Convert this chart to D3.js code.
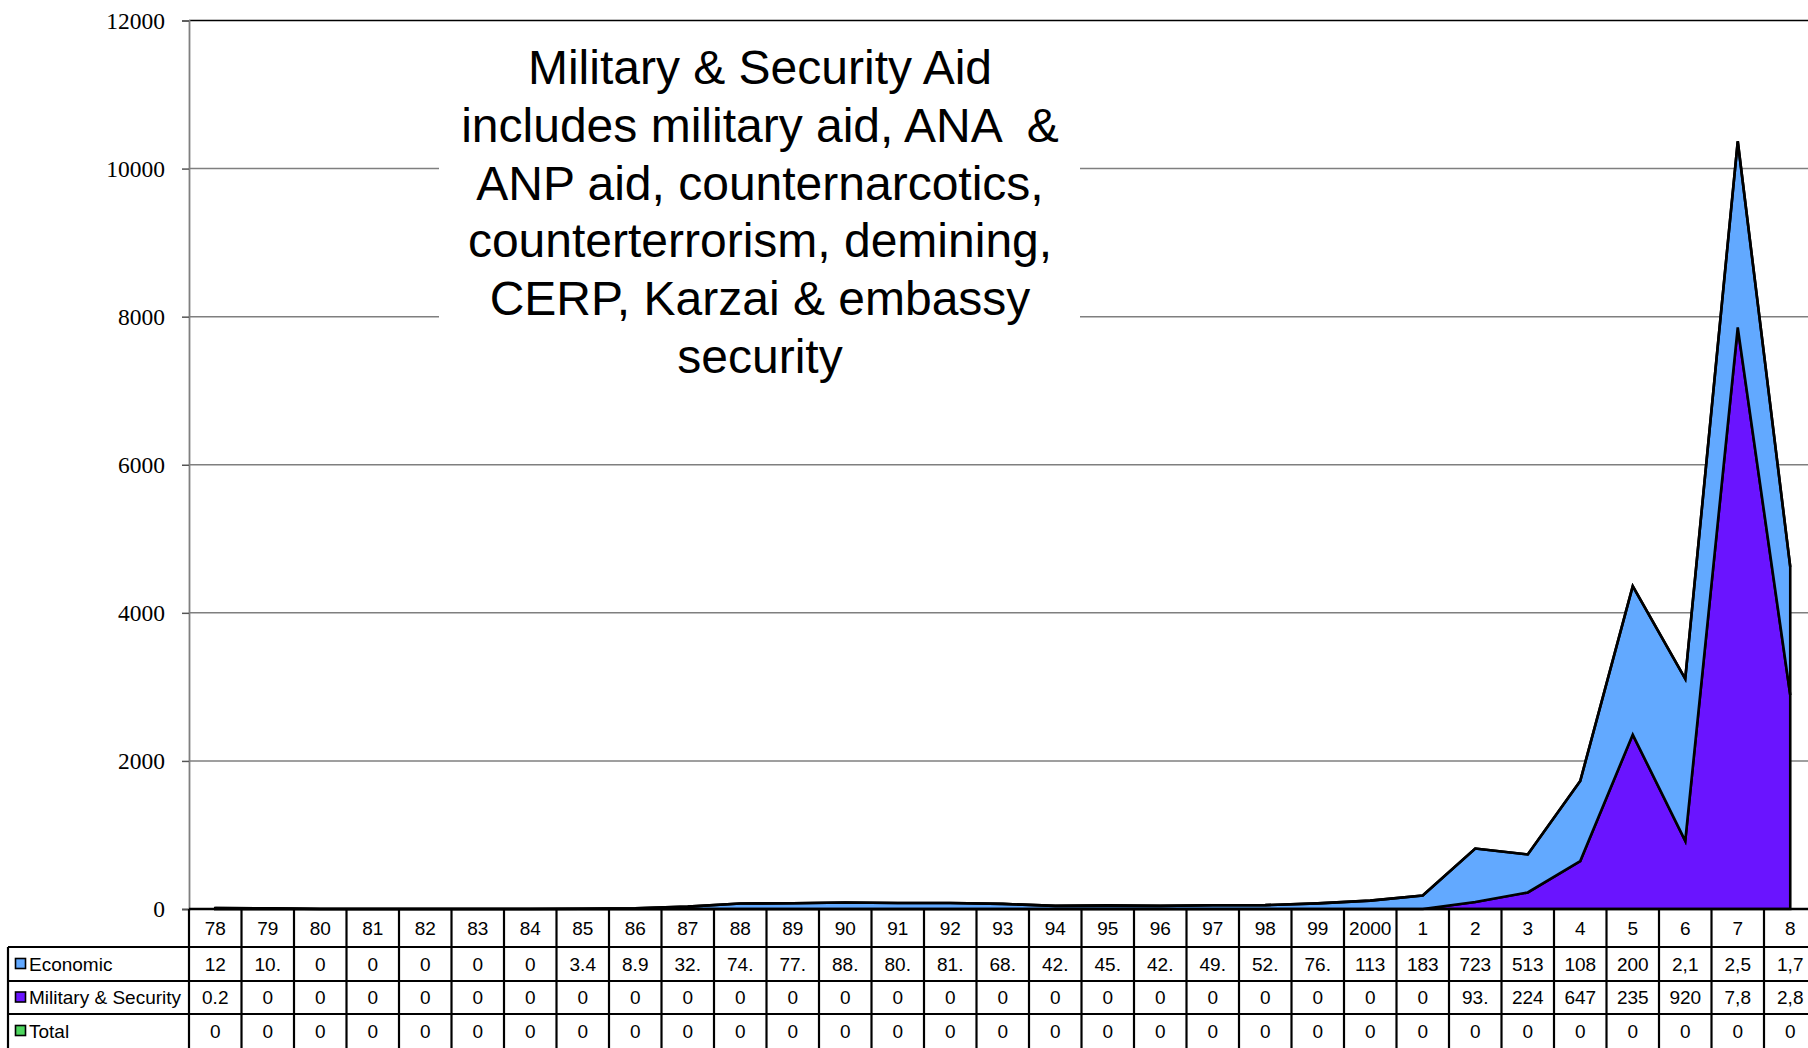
<!DOCTYPE html>
<html>
<head>
<meta charset="utf-8">
<script src="https://cdn.jsdelivr.net/npm/d3@7"></script>
<style>
  html, body { margin: 0; padding: 0; background: #fff; overflow: hidden; }
  svg { display: block; }
</style>
</head>
<body>
<script>
// US aid to Afghanistan by fiscal year (millions of dollars)
const categories = ["78","79","80","81","82","83","84","85","86","87","88","89","90","91","92","93","94","95","96","97","98","99","2000","1","2","3","4","5","6","7","8"];
const economic = [12, 10.5, 0, 0, 0, 0, 0, 3.4, 8.9, 32.6, 74.5, 77.3, 88.2, 80.6, 81.4, 68.8, 42.5, 45.3, 42.8, 49.7, 52.4, 76.6, 113, 183, 723, 513, 1082, 2004, 2188, 2514, 1730];
const military = [0.2, 0, 0, 0, 0, 0, 0, 0, 0, 0, 0, 0, 0, 0, 0, 0, 0, 0, 0, 0, 0, 0, 0, 0, 93.4, 224, 647, 2356, 920, 7855, 2890];
const total = [0, 0, 0, 0, 0, 0, 0, 0, 0, 0, 0, 0, 0, 0, 0, 0, 0, 0, 0, 0, 0, 0, 0, 0, 0, 0, 0, 0, 0, 0, 0];
const yTicks = [0, 2000, 4000, 6000, 8000, 10000, 12000];

const seriesNames = ["Economic", "Military & Security", "Total"];
const seriesColors = { "Economic": "#62a9ff", "Military & Security": "#6a14ff", "Total": "#4ed65e" };

const noteLines = [
  "Military & Security Aid",
  "includes military aid, ANA  &",
  "ANP aid, counternarcotics,",
  "counterterrorism, demining,",
  "CERP, Karzai & embassy",
  "security"
];

const W = 1808, H = 1048;
const plotLeft = 189, plotTop = 20.5, plotBottom = 909;
const bandW = 52.5;

const rows = categories.map((c, i) => ({
  cat: c,
  "Military & Security": military[i],
  "Economic": economic[i],
  "Total": total[i]
}));

const svg = d3.select("body").append("svg").attr("width", W).attr("height", H);

const x = d3.scaleBand().domain(categories).range([plotLeft, plotLeft + bandW * categories.length]).padding(0);
const y = d3.scaleLinear().domain([0, 12000]).range([plotBottom, plotTop]);
const cx = c => x(c) + x.bandwidth() / 2;

// horizontal gridlines
svg.append("g").selectAll("line").data(yTicks.filter(t => t > 0)).join("line")
  .attr("x1", plotLeft).attr("x2", W)
  .attr("y1", d => y(d)).attr("y2", d => y(d))
  .attr("stroke", d => d === 12000 ? "#000" : "#7f7f7f")
  .attr("stroke-width", 1.5);

// y axis (line, ticks, serif labels)
const yAxis = d3.axisLeft(y).tickValues(yTicks).tickSize(7).tickPadding(17).tickFormat(d3.format("d"));
const gy = svg.append("g").attr("transform", `translate(${plotLeft},0)`).call(yAxis);
gy.select(".domain").attr("stroke", "#7f7f7f").attr("stroke-width", 1.8);
gy.selectAll(".tick line").attr("stroke", "#555").attr("stroke-width", 1.5);
gy.selectAll(".tick text")
  .attr("font-family", "'Liberation Serif', 'Times New Roman', serif")
  .attr("font-size", 23.5).attr("fill", "#000");

// annotation box
const note = svg.append("g");
note.append("rect").attr("x", 439).attr("y", 24).attr("width", 641).attr("height", 380).attr("fill", "#fff");
note.append("text")
  .attr("font-family", "'Liberation Sans', Arial, sans-serif")
  .attr("font-size", 48).attr("fill", "#000").attr("text-anchor", "middle")
  .style("white-space", "pre")
  .selectAll("tspan").data(noteLines).join("tspan")
  .attr("x", 760).attr("y", (d, i) => 84 + i * 57.8)
  .text(d => d);

// stacked areas: military at the bottom, economic on top
const stack = d3.stack().keys(["Military & Security", "Economic", "Total"]);
const layers = stack(rows);
const area = d3.area()
  .x(d => cx(d.data.cat))
  .y0(d => y(d[0]))
  .y1(d => y(d[1]));

svg.append("g").selectAll("path").data(layers).join("path")
  .attr("d", area)
  .attr("fill", d => seriesColors[d.key])
  .attr("stroke", "#000")
  .attr("stroke-width", 2.6)
  .attr("stroke-linejoin", "miter");

// data table below the plot
const rowTop = [909, 947, 981, 1014];
const rowBottom = [947, 981, 1014, 1048];
const tableLeft = 8;
const table = svg.append("g");
const lineCol = "#000";
const lw = 2.2;

// horizontal rules
table.append("line").attr("x1", plotLeft).attr("x2", W).attr("y1", 909).attr("y2", 909)
  .attr("stroke", lineCol).attr("stroke-width", 2.6);
[947, 981, 1014].forEach(yy => {
  table.append("line").attr("x1", tableLeft).attr("x2", W).attr("y1", yy).attr("y2", yy)
    .attr("stroke", lineCol).attr("stroke-width", lw);
});
// vertical rules
table.append("line").attr("x1", tableLeft).attr("x2", tableLeft).attr("y1", 947).attr("y2", H)
  .attr("stroke", lineCol).attr("stroke-width", lw);
table.selectAll("line.v").data(categories).join("line").attr("class", "v")
  .attr("x1", c => x(c)).attr("x2", c => x(c))
  .attr("y1", 909).attr("y2", H)
  .attr("stroke", lineCol).attr("stroke-width", lw);

const fontSans = "'Liberation Sans', Arial, sans-serif";

// category header row
table.selectAll("text.cat").data(categories).join("text").attr("class", "cat")
  .attr("x", c => cx(c)).attr("y", (rowTop[0] + rowBottom[0]) / 2)
  .attr("dy", "0.36em").attr("text-anchor", "middle")
  .attr("font-family", fontSans).attr("font-size", 19).text(c => c);

// cell text: value written out, clipped to what the narrow cell can show
const cellText = (v, i) => {
  const s = i >= 28 ? d3.format(",")(v) : String(v);
  return s.slice(0, 3);
};

const seriesValues = { "Economic": economic, "Military & Security": military, "Total": total };
seriesNames.forEach((name, r) => {
  const ty = (rowTop[r + 1] + rowBottom[r + 1]) / 2;
  // legend key
  table.append("rect").attr("x", 15.5).attr("y", ty - 5.5).attr("width", 10).attr("height", 10)
    .attr("fill", seriesColors[name]).attr("stroke", "#000").attr("stroke-width", 1.6);
  table.append("text").attr("x", 29).attr("y", ty).attr("dy", "0.36em")
    .attr("font-family", fontSans).attr("font-size", 19).text(name);
  table.append("g").selectAll("text").data(seriesValues[name]).join("text")
    .attr("x", (v, i) => cx(categories[i])).attr("y", ty).attr("dy", "0.36em")
    .attr("text-anchor", "middle").attr("font-family", fontSans).attr("font-size", 19)
    .text((v, i) => cellText(v, i));
});
</script>
</body>
</html>
